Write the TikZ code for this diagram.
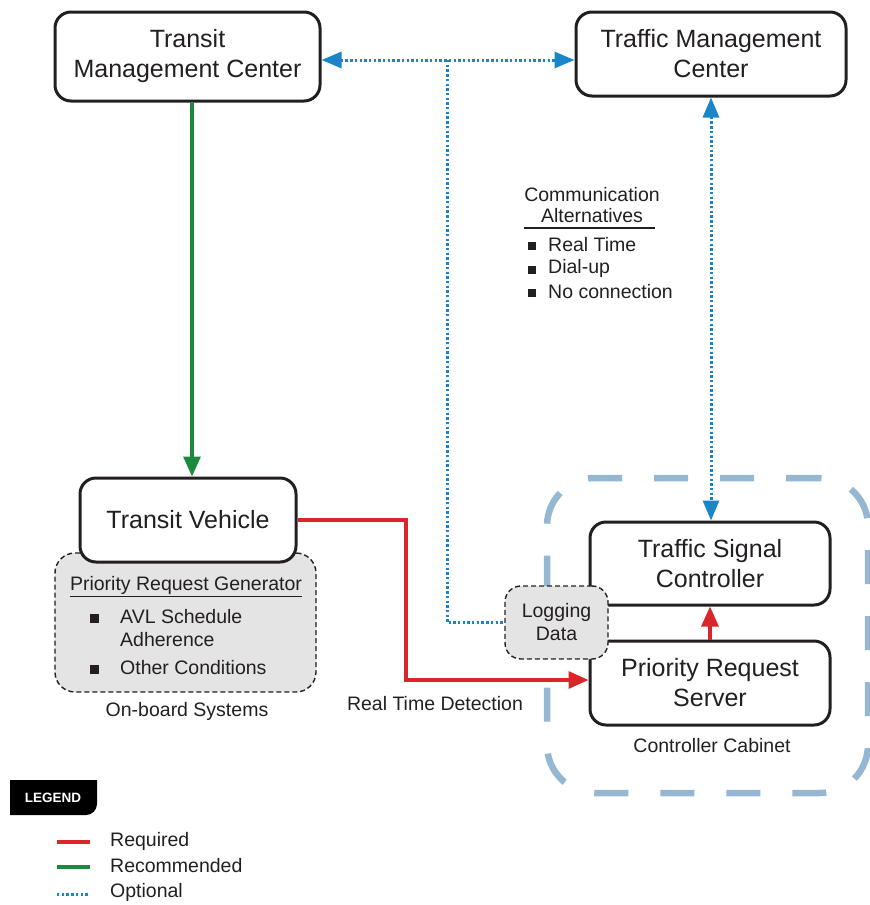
\documentclass[tikz,border=0pt]{standalone}
\usepackage{fontspec}
\setmainfont{Liberation Sans}
\usetikzlibrary{arrows.meta}
\definecolor{ink}{HTML}{231F20}
\definecolor{reqc}{HTML}{D9262B}
\definecolor{recc}{HTML}{1B8A3E}
\definecolor{optc}{HTML}{1A86C8}
\definecolor{cabc}{HTML}{95B7D2}
\definecolor{grayfill}{HTML}{E4E4E4}
\tikzset{
  box/.style={draw=ink, line width=3pt, rounded corners=16pt, fill=white, align=center, inner sep=0pt, text=ink, font=\fontsize{25}{30}\selectfont},
  dashbox/.style={draw=ink, line width=1.4pt, dash pattern=on 5pt off 3pt, rounded corners=16pt, fill=grayfill, inner sep=0pt},
  small/.style={inner sep=0pt, text=ink, font=\fontsize{19.5}{23}\selectfont},
  tip/.style={-{Triangle[length=20pt,width=17pt]}},
  dtip/.style={{Triangle[length=20pt,width=16pt]}-{Triangle[length=20pt,width=16pt]}},
  req/.style={draw=reqc, line width=3.2pt},
  rec/.style={draw=recc, line width=3.2pt},
  opt/.style={draw=optc, line width=3pt, dash pattern=on 2.4pt off 2.3pt},
  bullet/.style={fill=ink, inner sep=0pt, minimum size=#1},
}
\begin{document}
\begin{tikzpicture}[x=1pt,y=-1pt]
\useasboundingbox (0,0) rectangle (870,905);

% controller cabinet
\node[draw=cabc, line width=6.5pt, dash pattern=on 34pt off 32pt, rounded corners=48pt, minimum width=321pt, minimum height=315pt, inner sep=0pt] (cab) at (707.5,635.5) {};

% main boxes
\node[box, minimum width=265pt, minimum height=89pt] (tmc) at (187.5,56.5) {Transit\\Management Center};
\node[box, minimum width=270pt, minimum height=84pt] (trmc) at (711,54) {Traffic Management\\Center};

% on-board systems
\node[dashbox, minimum width=261pt, minimum height=139pt, rounded corners=20pt] (onb) at (185.5,622.5) {};
\node[box, minimum width=216pt, minimum height=84pt] (tv) at (188,520) {Transit Vehicle};

\node[box, minimum width=240pt, minimum height=83pt] (tsc) at (710,563.5) {Traffic Signal\\Controller};
\node[box, minimum width=240pt, minimum height=84pt] (prs) at (710,683) {Priority Request\\Server};

\node[dashbox, minimum width=103pt, minimum height=73pt, align=center, text=ink, font=\fontsize{19.5}{23}\selectfont] (log) at (556.5,622.5) {Logging\\Data};

% texts in on-board box
\node[small] (prg) at (186,585) {Priority Request Generator};
\draw[ink, line width=1.2pt] (prg.south west) ++(0,2) coordinate (ul1) -- (ul1 -| prg.south east);
\node[bullet=9pt] (b1) at (94,618) {};
\node[bullet=9pt] (b2) at (94,669) {};
\node[small, anchor=west, align=left] (avl) at (120,628) {AVL Schedule\\Adherence};
\node[small, anchor=west] (oth) at (120,668) {Other Conditions};
\node[small] (obs) at (187,711) {On-board Systems};

% communication alternatives
\node[small, align=center, font=\fontsize{19.5}{21}\selectfont] (comm) at (592,205) {Communication\\Alternatives};
\coordinate (ulA) at (524,228);
\coordinate (ulB) at (655,228);
\draw[ink, line width=1.2pt] (ulA) -- (ulB);
\node[bullet=7.5pt] (c1) at (532,246) {};
\node[bullet=7.5pt] (c2) at (532,270) {};
\node[bullet=7.5pt] (c3) at (532,293) {};
\node[small, anchor=west] (rt) at (548,245) {Real Time};
\node[small, anchor=west] (du) at (548,268) {Dial-up};
\node[small, anchor=west] (nc) at (548,292) {No connection};

\node[small] (rtd) at (435,704) {Real Time Detection};
\node[small] (cc) at (712,746) {Controller Cabinet};

% connectors
\coordinate (br) at (447,60);
\draw[opt, dtip] (tmc.east |- br) -- (trmc.west |- br);
\draw[opt] (br) |- (log.west);
\draw[opt, dtip] (trmc.south) -- (trmc.south |- tsc.north);
\draw[rec, tip] ([xshift=4.5pt]tmc.south) -- ([xshift=4pt]tv.north);
\coordinate (rc) at (406,520);
\draw[req, tip, line join=miter] (tv.east) -- (rc) |- ([yshift=3pt]prs.west);
\draw[req, tip] (prs.north) -- (tsc.south);

% legend
\fill[black] (10,780) -- (97,780) [rounded corners=11pt] -- (97,815) [sharp corners] -- (10,815) -- cycle;
\node[inner sep=0pt, text=white, font=\fontsize{13.5}{15}\bfseries\selectfont] (leg) at (53,797.5) {LEGEND};
\coordinate (l1a) at (57,842); \coordinate (l1b) at (90,842);
\coordinate (l2a) at (57,867); \coordinate (l2b) at (90,867);
\coordinate (l3a) at (57,894); \coordinate (l3b) at (88,894);
\draw[req] (l1a) -- (l1b);
\draw[rec] (l2a) -- (l2b);
\draw[opt] (l3a) -- (l3b);
\node[small, anchor=west] (lr) at (110,841) {Required};
\node[small, anchor=west] (lrc) at (110,866) {Recommended};
\node[small, anchor=west] (lo) at (110,892) {Optional};
\end{tikzpicture}
\end{document}
